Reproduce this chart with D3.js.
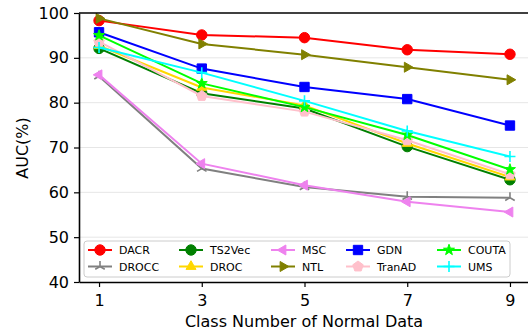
<!DOCTYPE html>
<html>
<head>
<meta charset="utf-8">
<title>AUC vs class number</title>
<style>
  body { margin: 0; background: #fff; }
  svg { display: block; font-family: "DejaVu Sans", sans-serif; }
  .grid line { stroke: #e6e6e6; stroke-width: 1; }
  .axis path, .axis line { stroke: #000; }
</style>
<script src="https://d3js.org/d3.v7.min.js"></script>
</head>
<body>
<script>
// x = class number of normal data
var classNums = [1, 3, 5, 7, 9];
var yTicks = [40, 50, 60, 70, 80, 90, 100];

var names   = ["DACR", "DROCC", "TS2Vec", "DROC", "MSC", "NTL", "GDN", "TranAD", "COUTA", "UMS"];
var colors  = ["red", "grey", "green", "gold", "violet", "olive", "blue", "pink", "lime", "cyan"];
var markers = ["circle", "tri", "circle", "up", "left", "right", "square", "pentagon", "star", "plus"];

var dacr   = [98.3, 95.1, 94.5, 91.8, 90.8];
var drocc  = [85.9, 65.3, 61.2, 59.0, 58.8];
var ts2vec = [92.1, 82.1, 78.7, 70.2, 62.8];
var droc   = [92.7, 83.4, 79.4, 70.9, 63.4];
var msc    = [86.2, 66.4, 61.6, 57.9, 55.6];
var ntl    = [98.8, 93.1, 90.7, 87.9, 85.1];
var gdn    = [95.7, 87.6, 83.5, 80.8, 74.9];
var tranad = [93.6, 81.5, 78.0, 71.6, 64.0];
var couta  = [95.0, 84.3, 79.0, 72.8, 65.1];
var ums    = [92.3, 86.7, 80.4, 73.7, 68.0];

var series = [dacr, drocc, ts2vec, droc, msc, ntl, gdn, tranad, couta, ums];

var W = 528, H = 333;
var mLeft = 79, mTop = 13, mBottom = 282, mRight = 530;

var svg = d3.select("body").append("svg").attr("width", W).attr("height", H);

var x = d3.scaleLinear().domain([0.61, 9.39]).range([mLeft, mRight]);
var y = d3.scaleLinear().domain([40, 100]).range([mBottom, mTop]);

// grid
svg.append("g").attr("class", "grid")
   .selectAll("line").data(yTicks.slice(1, -1)).enter().append("line")
   .attr("x1", mLeft).attr("x2", mRight)
   .attr("y1", function (d) { return y(d); })
   .attr("y2", function (d) { return y(d); });

var line = d3.line()
  .x(function (d, i) { return x(classNums[i]); })
  .y(function (d) { return y(d); });

function markerPath(type, s) {
  var r = s / 2, p = [], i, a;
  if (type === "circle") return d3.symbol(d3.symbolCircle, Math.PI * r * r * 0.9)();
  if (type === "square") { r = r * 0.85; return "M" + (-r) + "," + (-r) + "H" + r + "V" + r + "H" + (-r) + "Z"; }
  if (type === "up" || type === "left" || type === "right") {
    var rot = { up: -90, left: 180, right: 0 }[type];
    for (i = 0; i < 3; i++) {
      a = (rot + i * 120) * Math.PI / 180;
      p.push([r * 1.05 * Math.cos(a), r * 1.05 * Math.sin(a)]);
    }
    return "M" + p.join("L") + "Z";
  }
  if (type === "pentagon") {
    for (i = 0; i < 5; i++) {
      a = (-90 + i * 72) * Math.PI / 180;
      p.push([r * Math.cos(a), r * Math.sin(a)]);
    }
    return "M" + p.join("L") + "Z";
  }
  if (type === "star") {
    for (i = 0; i < 10; i++) {
      a = (-90 + i * 36) * Math.PI / 180;
      var rr = i % 2 ? r * 0.42 : r * 1.05;
      p.push([rr * Math.cos(a), rr * Math.sin(a)]);
    }
    return "M" + p.join("L") + "Z";
  }
  if (type === "plus") return "M" + (-r) + ",0H" + r + "M0," + (-r) + "V" + r;
  if (type === "tri") {
    var q = "";
    [-90, 30, 150].forEach(function (deg) {
      a = deg * Math.PI / 180;
      q += "M0,0L" + (r * Math.cos(a)) + "," + (r * Math.sin(a));
    });
    return q;
  }
}

function drawMarker(g, type, color, s) {
  var open = (type === "plus" || type === "tri");
  g.append("path").attr("d", markerPath(type, s))
    .attr("fill", open ? "none" : color)
    .attr("stroke", color)
    .attr("stroke-width", open ? 1.6 : 1)
    .attr("stroke-linejoin", "miter");
}

var plot = svg.append("g");
series.forEach(function (vals, k) {
  var g = plot.append("g");
  g.append("path").datum(vals).attr("d", line)
    .attr("fill", "none").attr("stroke", colors[k]).attr("stroke-width", 2);
  vals.forEach(function (v, i) {
    var m = g.append("g").attr("transform", "translate(" + x(classNums[i]) + "," + y(v) + ")");
    drawMarker(m, markers[k], colors[k], 11);
  });
});

// axes
var xAxis = svg.append("g").attr("class", "axis")
  .attr("transform", "translate(0," + mBottom + ")")
  .call(d3.axisBottom(x).tickValues(classNums).tickSize(5).tickSizeOuter(0));
var yAxis = svg.append("g").attr("class", "axis")
  .attr("transform", "translate(" + mLeft + ",0)")
  .call(d3.axisLeft(y).tickValues(yTicks).tickSize(5).tickSizeOuter(0));
[xAxis, yAxis].forEach(function (a) {
  a.select(".domain").attr("stroke-width", 1.6);
  a.selectAll(".tick line").attr("stroke-width", 1.2);
  a.selectAll("text").attr("font-size", 16).attr("fill", "#000")
    .attr("font-family", "DejaVu Sans, sans-serif");
});
xAxis.selectAll("text").attr("y", 24).attr("dy", 0);
yAxis.selectAll("text").attr("x", -10);

svg.append("line").attr("x1", mLeft).attr("x2", mRight).attr("y1", mTop).attr("y2", mTop)
  .attr("stroke", "#000").attr("stroke-width", 1.6);

svg.append("text").attr("x", 304).attr("y", 327).attr("text-anchor", "middle")
  .attr("font-size", 16).text("Class Number of Normal Data");
svg.append("text").attr("transform", "translate(27.5,148) rotate(-90)")
  .attr("text-anchor", "middle").attr("font-size", 16).text("AUC(%)");

// legend: 5 columns, 2 rows, column-major
var leg = svg.append("g");
leg.append("rect").attr("x", 84).attr("y", 241).attr("width", 426).attr("height", 36)
  .attr("rx", 3).attr("fill", "#fff").attr("fill-opacity", 0.8)
  .attr("stroke", "#cccccc").attr("stroke-width", 1);
var colX = [88, 179, 271, 346, 437];
var rowY = [250, 266.5];
names.forEach(function (n, k) {
  var cx = colX[Math.floor(k / 2)], cy = rowY[k % 2];
  var g = leg.append("g");
  g.append("line").attr("x1", cx).attr("x2", cx + 24).attr("y1", cy).attr("y2", cy)
    .attr("stroke", colors[k]).attr("stroke-width", 2);
  var m = g.append("g").attr("transform", "translate(" + (cx + 12) + "," + cy + ")");
  drawMarker(m, markers[k], colors[k], 11);
  g.append("text").attr("x", cx + 31).attr("y", cy + 4).attr("font-size", 11).text(n);
});
</script>
</body>
</html>
